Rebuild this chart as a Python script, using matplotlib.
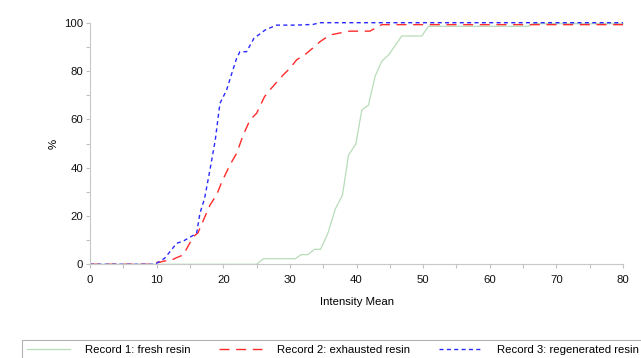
import matplotlib
matplotlib.use("Agg")
import matplotlib.pyplot as plt
from matplotlib.ticker import MultipleLocator

plt.rcParams['font.family'] = ['Liberation Sans', 'DejaVu Sans']

# Record 1: fresh resin
fresh_x = [0, 25, 26, 30.8, 31.7, 32.7, 33.7, 34.6, 35.7, 36.8, 37.9, 38.8, 39.9, 40.8,
           41.8, 42.8, 43.8, 44.8, 45.8, 46.8, 49.8, 50.8, 65.8, 66.5, 80]
fresh_y = [0, 0, 2.3, 2.3, 4, 4, 6.2, 6.2, 12.8, 22.8, 28.7, 45.2, 49.8, 63.9,
           65.9, 77.9, 84.1, 86.6, 90.5, 94.5, 94.5, 98.5, 98.5, 99.6, 99.6]

# Record 2: exhausted resin
exh_x = [0, 9, 10, 10.5, 11.2, 12, 12.8, 14, 15.5, 16.2, 18, 19, 19.8, 21, 22, 23, 24, 25,
         26.2, 27.2, 29, 30, 31, 32.5, 34, 34.5, 36, 38, 39, 42, 43.8, 80]
exh_y = [0, 0, 0.8, 0.9, 1.4, 1.4, 2.5, 3.9, 11.4, 13, 24.5, 28.7, 34.2, 41.1, 45.9, 53.5, 59.7, 62.5,
         69.4, 72.8, 78.4, 81.1, 84.6, 87.3, 90.8, 92.1, 94.9, 96, 96.5, 96.5, 99.2, 99.2]

# Record 3: regenerated resin
reg_x = [0, 9.5, 10, 11.2, 12, 13, 14, 15, 16, 16.5, 17.2, 18, 18.8, 19.5, 20.5, 21.2, 22,
         22.5, 23.5, 24.6, 26.3, 28, 31, 33.5, 34.5, 80]
reg_y = [0, 0, 0.4, 2.5, 5.2, 8.7, 9.6, 11.2, 12.8, 21.1, 27.3, 39, 51.4, 66.6, 72.1, 78.3, 85.2,
         88, 88, 93.5, 97, 99, 99, 99.3, 100, 100]

labels = ["Record 1: fresh resin", "Record 2: exhausted resin", "Record 3: regenerated resin"]

fs = 8.2

fig = plt.figure(figsize=(6.41, 3.58), dpi=100)
ax = fig.add_axes([90 / 641, 93.7 / 358, 533 / 641, 241.6 / 358])

ax.plot(fresh_x, fresh_y, color="#b8dcb8", lw=0.9, clip_on=False, label=labels[0])
ax.plot(exh_x, exh_y, color="#ff2a2a", lw=1.0, dashes=(7.2, 4.8), clip_on=False, label=labels[1])
ax.plot(reg_x, reg_y, color="#2a2aff", lw=1.0, dashes=(2.9, 2.4), clip_on=False, label=labels[2])

ax.set_xlim(0, 80)
ax.set_ylim(0, 100)
ax.xaxis.set_major_locator(MultipleLocator(10))
ax.xaxis.set_minor_locator(MultipleLocator(5))
ax.yaxis.set_major_locator(MultipleLocator(20))
ax.yaxis.set_minor_locator(MultipleLocator(10))

for s in ["top", "right"]:
    ax.spines[s].set_visible(False)
for s in ["left", "bottom"]:
    ax.spines[s].set_color("#c8c8c8")
    ax.spines[s].set_linewidth(0.8)
ax.tick_params(which="both", direction="out", length=3, color="#c0c0c0", width=0.8,
               labelsize=fs, labelcolor="#111111")
ax.tick_params(axis="x", pad=5)
ax.tick_params(axis="y", pad=2)

ax.set_xlabel("Intensity Mean", fontsize=fs, labelpad=8)
ax.set_ylabel("%", fontsize=fs, labelpad=4)

leg = fig.legend(loc="upper left", bbox_to_anchor=(22 / 641, 1 - 340.3 / 358), ncol=3,
                 fontsize=fs, frameon=True, fancybox=False, borderaxespad=0,
                 handlelength=3.8, handletextpad=1.3, columnspacing=2.5, borderpad=0.45)
leg.get_frame().set_edgecolor("#a0a0a0")
leg.get_frame().set_linewidth(0.8)

fig.savefig("out.png", dpi=100)
